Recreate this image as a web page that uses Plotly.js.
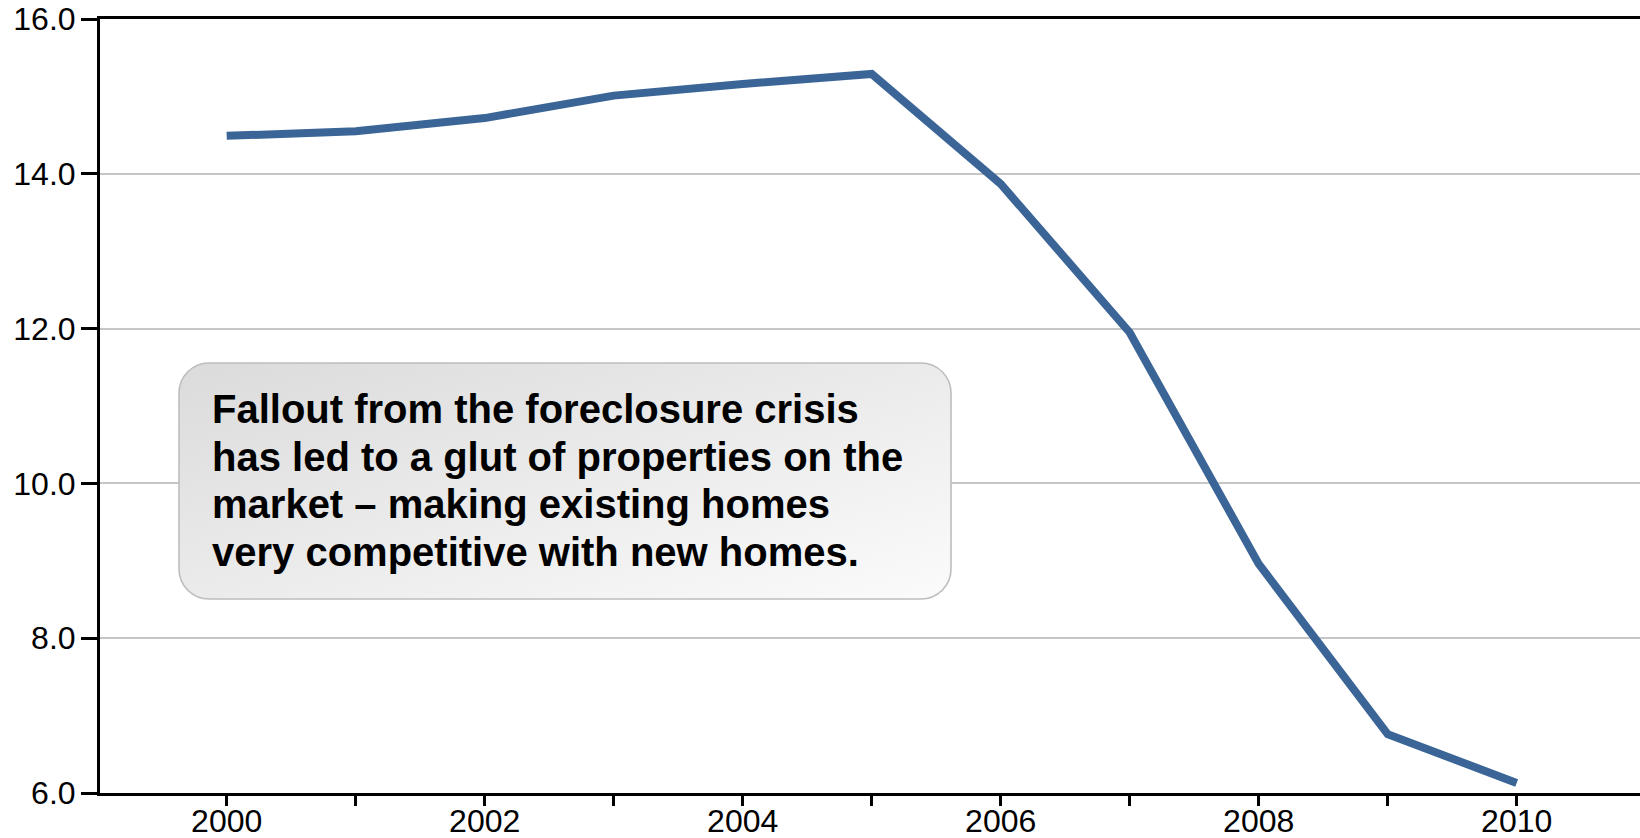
<!DOCTYPE html>
<html>
<head>
<meta charset="utf-8">
<script src="https://cdn.plot.ly/plotly-3.0.1.min.js"></script>
<style>
  html, body { margin: 0; padding: 0; background: #ffffff; }
  #chart { width: 1640px; height: 838px; }
</style>
</head>
<body>
<div id="chart"></div>
<script>
// ---- data ----
const years = [2000, 2001, 2002, 2003, 2004, 2005, 2006, 2007, 2008, 2009, 2010];
const values = [14.49, 14.55, 14.72, 15.01, 15.16, 15.29, 13.87, 11.95, 8.96, 6.76, 6.13];
const xTickVals = [2000, 2001, 2002, 2003, 2004, 2005, 2006, 2007, 2008, 2009, 2010];
const xTickText = ['2000', '', '2002', '', '2004', '', '2006', '', '2008', '', '2010'];
const yTickVals = [6, 8, 10, 12, 14, 16];
const yTickText = ['6.0', '8.0', '10.0', '12.0', '14.0', '16.0'];
const noteLines = [
  'Fallout from the foreclosure crisis',
  'has led to a glut of properties on the',
  'market \u2013 making existing homes',
  'very competitive with new homes.'
];

// ---- layout helpers (pixel -> paper) ----
const W = 1640, H = 838;
const M = { l: 100, r: 0, t: 19, b: 45 };
const PW = W - M.l - M.r, PH = H - M.t - M.b;
const px = x => (x - M.l) / PW;
const py = y => (H - M.b - y) / PH;

const box = { x0: 178, y0: 362, x1: 952, y1: 600 };
const bw = box.x1 - box.x0, bh = box.y1 - box.y0;
const svg =
  '<svg xmlns="http://www.w3.org/2000/svg" width="' + bw + '" height="' + bh + '" viewBox="0 0 ' + bw + ' ' + bh + '">' +
  '<defs><linearGradient id="g" x1="0" y1="0" x2="1" y2="1">' +
  '<stop offset="0" stop-color="#dbdbdb"/><stop offset="1" stop-color="#fbfbfb"/>' +
  '</linearGradient></defs>' +
  '<rect x="1" y="1" width="' + (bw - 2) + '" height="' + (bh - 2) + '" rx="30" ry="30" fill="url(#g)" stroke="#bdbdbd" stroke-width="1.6"/>' +
  '</svg>';
const svgURI = 'data:image/svg+xml;charset=utf-8,' + encodeURIComponent(svg);

const fontSize = 40;
const baselines = [423, 470.7, 518.3, 566];
const annotations = noteLines.map((t, i) => ({
  text: '<b>' + t + '</b>',
  xref: 'paper', yref: 'paper',
  x: px(210), y: py(baselines[i] - 0.3465 * fontSize),
  xanchor: 'left', yanchor: 'middle',
  showarrow: false, align: 'left',
  font: { family: 'Liberation Sans, Arial, sans-serif', size: fontSize, color: '#000000' }
}));

const trace = {
  x: years, y: values,
  type: 'scatter', mode: 'lines',
  line: { color: '#3b6596', width: 8 },
  hoverinfo: 'x+y'
};

const tickFont = { family: 'Liberation Sans, Arial, sans-serif', size: 32, color: '#000000' };

const layout = {
  width: W, height: H,
  margin: M,
  paper_bgcolor: '#ffffff', plot_bgcolor: '#ffffff',
  showlegend: false,
  xaxis: {
    range: [1999.018, 2010.956],
    tickmode: 'array', tickvals: xTickVals, ticktext: xTickText,
    ticks: 'outside', ticklen: 10, tickwidth: 3, tickcolor: '#000000',
    showline: true, linecolor: '#000000', linewidth: 3, mirror: true,
    showgrid: false, zeroline: false,
    tickfont: tickFont, ticklabelstandoff: -12
  },
  yaxis: {
    range: [6, 16],
    tickmode: 'array', tickvals: yTickVals, ticktext: yTickText,
    ticks: 'outside', ticklen: 16, tickwidth: 3, tickcolor: '#000000',
    showline: true, linecolor: '#000000', linewidth: 3,
    showgrid: true, gridcolor: '#c6c6c6', gridwidth: 2,
    zeroline: false,
    tickfont: tickFont, ticklabelstandoff: -1
  },
  images: [{
    source: svgURI,
    xref: 'paper', yref: 'paper',
    x: px(box.x0), y: py(box.y0),
    sizex: bw / PW, sizey: bh / PH,
    xanchor: 'left', yanchor: 'top',
    sizing: 'stretch', layer: 'above'
  }],
  annotations: annotations
};

Plotly.newPlot('chart', [trace], layout, { displayModeBar: false, staticPlot: true });
</script>
</body>
</html>
